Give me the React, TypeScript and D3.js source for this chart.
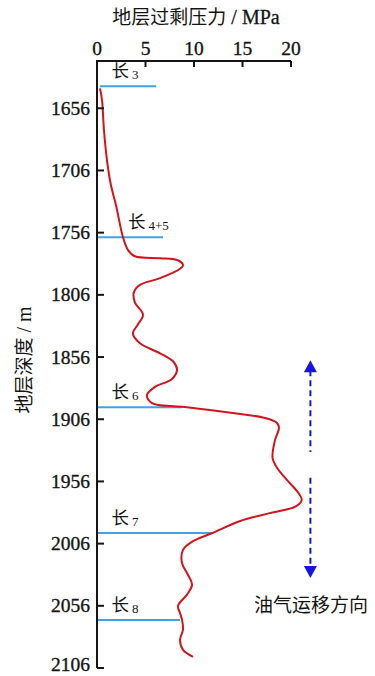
import React from 'react'
import * as d3 from 'd3'

// excess pressure (MPa) vs depth (m)
const pressure = [
  0.31, 0.52, 0.72, 1.03, 1.44, 1.96, 2.68, 3.2, 3.9, 6.5, 8.25, 8.87, 8.56, 6.5, 4.43,
  3.8, 3.9, 4.74, 4.2, 3.7, 4.43, 6.5, 7.9, 8.25, 7.7, 5.98, 5.15, 5.67, 8.76, 14.0,
  17.3, 18.56, 18.76, 18.35, 18.1, 18.56, 19.6, 20.7, 21.1, 20.5, 17.8, 14.7, 11.9, 9.9,
  8.87, 8.76, 9.38, 9.8, 9.28, 8.35, 8.56, 8.76, 8.87, 8.56, 8.87, 9.9,
]
const depth = [
  1640, 1649.6, 1673.7, 1697.8, 1717.9, 1734, 1759.7, 1770, 1775, 1776.5, 1778, 1782,
  1785, 1792.6, 1798, 1804, 1812, 1822, 1830, 1837, 1845, 1853, 1860, 1866.5, 1873.8,
  1880, 1886.6, 1893, 1896, 1901, 1905, 1909, 1913, 1922.8, 1937, 1945, 1955, 1964.6,
  1971, 1976, 1981.5, 1988, 1997.5, 2004, 2011, 2021.6, 2031, 2039, 2047, 2056, 2061.8,
  2067, 2075, 2083.5, 2091.5, 2097,
]

// formation boundaries
const layerNames = ['3', '4+5', '6', '7', '8']
const layerDepth = [1638.3, 1759.7, 1896.3, 1997.5, 2067.4]
const layerStart = [0.3, 0, 0, 0, 0]
const layerEnd = [6.1, 6.8, 8.76, 11.9, 8.56]
const layerLabelX = [1.5, 3.2, 1.5, 1.5, 1.5]

const xTicks = [0, 5, 10, 15, 20]
const yTicks = [1656, 1706, 1756, 1806, 1856, 1906, 1956, 2006, 2056, 2106]

// migration arrows (value position, depth range)
const arrowX = 22
const arrowUp = [1858.5, 1932.4]
const arrowDown = [1953, 2033.7]

const serif = 'Liberation Serif, Times New Roman, serif'
const cjk = 'Noto Sans CJK SC, sans-serif'

export default function App() {
  const x = d3.scaleLinear().domain([0, 20]).range([97, 291])
  const y = d3.scaleLinear().domain([1618, 2106]).range([61, 668])

  const pts = pressure.map((p, i) => [p, depth[i]] as [number, number])
  const line = d3
    .line<[number, number]>()
    .x((d) => x(d[0]))
    .y((d) => y(d[1]))
    .curve(d3.curveCatmullRom.alpha(0.5))

  const ax = x(arrowX)
  const blue = '#1414e6'
  const ink = '#151515'

  return (
    <svg
      width={375}
      height={676}
      style={{ position: 'absolute', left: 0, top: 0, background: '#fff' }}
    >
      {/* title */}
      <text x={196} y={24} textAnchor="middle" fontSize={19} fill={ink}>
        <tspan fontFamily={cjk}>地层过剩压力</tspan>
        <tspan fontFamily={serif} fontSize={20} stroke={ink} strokeWidth={0.3}>
          {' '}/ MPa
        </tspan>
      </text>

      {/* y label */}
      <text
        transform={`translate(31,360) rotate(-90)`}
        textAnchor="middle"
        fontSize={19}
        fill={ink}
      >
        <tspan fontFamily={cjk}>地层深度</tspan>
        <tspan fontFamily={serif} fontSize={20}> / m</tspan>
      </text>

      {/* boundary lines */}
      {layerDepth.map((d, i) => (
        <line
          key={'l' + i}
          x1={x(layerStart[i])}
          x2={x(layerEnd[i])}
          y1={y(d)}
          y2={y(d)}
          stroke="#3fa3e6"
          strokeWidth={2}
        />
      ))}

      {/* pressure curve */}
      <path d={line(pts) ?? ''} fill="none" stroke="#d3141c" strokeWidth={2} />

      {/* top axis */}
      <line x1={x(0)} x2={x(20)} y1={61} y2={61} stroke={ink} strokeWidth={2} />
      {xTicks.map((t) => (
        <g key={'x' + t}>
          <line x1={x(t)} x2={x(t)} y1={61} y2={67} stroke={ink} strokeWidth={2} />
          <text
            x={x(t)}
            y={55}
            textAnchor="middle"
            fontFamily={serif}
            fontSize={19.5}
            fill={ink}
            stroke={ink}
            strokeWidth={0.35}
          >
            {t}
          </text>
        </g>
      ))}

      {/* left axis */}
      <line x1={97} x2={97} y1={60} y2={y(2106)} stroke={ink} strokeWidth={2} />
      {yTicks.map((t) => (
        <g key={'y' + t}>
          <line x1={97} x2={104} y1={y(t)} y2={y(t)} stroke={ink} strokeWidth={2} />
          <text
            x={90}
            y={Math.min(y(t) + 6.5, 671)}
            textAnchor="end"
            fontFamily={serif}
            fontSize={19.5}
            fill={ink}
            stroke={ink}
            strokeWidth={0.35}
          >
            {t}
          </text>
        </g>
      ))}

      {/* layer labels */}
      {layerNames.map((n, i) => (
        <text
          key={'n' + i}
          x={x(layerLabelX[i])}
          y={y(layerDepth[i]) - 9}
          fontSize={17.5}
          fill={ink}
        >
          <tspan fontFamily={cjk}>长</tspan>
          <tspan fontFamily={serif} fontSize={13} dx={3} dy={2}>
            {n}
          </tspan>
        </text>
      ))}

      {/* migration direction arrows */}
      <line
        x1={ax}
        x2={ax}
        y1={y(arrowUp[0]) + 10}
        y2={y(arrowUp[1])}
        stroke={blue}
        strokeWidth={2}
        strokeDasharray="6,4"
      />
      <path
        d={`M${ax},${y(arrowUp[0])} L${ax - 6.5},${y(arrowUp[0]) + 12} L${ax + 6.5},${y(arrowUp[0]) + 12} Z`}
        fill={blue}
      />
      <line
        x1={ax}
        x2={ax}
        y1={y(arrowDown[0])}
        y2={y(arrowDown[1]) - 10}
        stroke={blue}
        strokeWidth={2}
        strokeDasharray="6,4"
      />
      <path
        d={`M${ax},${y(arrowDown[1])} L${ax - 6.5},${y(arrowDown[1]) - 12} L${ax + 6.5},${y(arrowDown[1]) - 12} Z`}
        fill={blue}
      />
      <text
        x={311}
        y={612}
        textAnchor="middle"
        fontFamily={cjk}
        fontSize={19}
        fill={ink}
      >
        油气运移方向
      </text>
    </svg>
  )
}
